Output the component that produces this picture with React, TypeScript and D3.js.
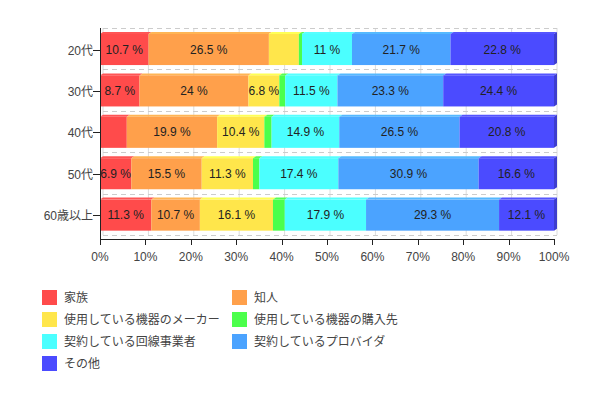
import React, { useEffect, useRef } from 'react';
import * as d3 from 'd3';

const categories = ['20代', '30代', '40代', '50代', '60歳以上'];
const seriesNames = [
  '家族',
  '知人',
  '使用している機器のメーカー',
  '使用している機器の購入先',
  '契約している回線事業者',
  '契約しているプロバイダ',
  'その他',
];
const colors = ['#ff4b4b', '#ffa04b', '#ffe64b', '#4bff4b', '#4bffff', '#4ba3ff', '#4b4bff'];

// one row per category, same order as seriesNames
const values = [
  [10.7, 26.5, 6.6, 0.7, 11, 21.7, 22.8],
  [8.7, 24, 6.8, 1.3, 11.5, 23.3, 24.4],
  [5.9, 19.9, 10.4, 1.6, 14.9, 26.5, 20.8],
  [6.9, 15.5, 11.3, 1.4, 17.4, 30.9, 16.6],
  [11.3, 10.7, 16.1, 2.6, 17.9, 29.3, 12.1],
];
const xTicks = [0, 10, 20, 30, 40, 50, 60, 70, 80, 90, 100];

const FONT = "Arial, 'Liberation Sans', 'Noto Sans CJK JP', sans-serif";

const App = () => {
  const svgRef = useRef(null);

  useEffect(() => {
    const svg = d3.select(svgRef.current);
    svg.selectAll('*').remove();

    const left = 100;
    const right = 554;
    const top = 28;
    const bottom = 239;
    const dx = 3; // depth offset of the back wall
    const dy = 4;
    const bdx = 3; // depth of the bars
    const bdy = 2;

    const x = d3.scaleLinear().domain([0, 100]).range([left, right]);
    const rows = d3.scaleBand().domain(categories).range([top, bottom - dy]).padding(0);
    const barTop = (c) => rows(c) + rows.bandwidth() * 0.145;
    const barH = rows.bandwidth() * 0.75;

    // back wall: vertical grid
    svg.append('g')
      .selectAll('line')
      .data(xTicks)
      .join('line')
      .attr('x1', d => x(d) + dx)
      .attr('x2', d => x(d) + dx)
      .attr('y1', top)
      .attr('y2', bottom - dy)
      .attr('stroke', '#dcdcdc')
      .attr('stroke-width', 1);

    // back wall: dashed row lines
    const rowLines = categories.map(c => rows(c)).concat([rows(categories[categories.length - 1]) + rows.bandwidth()]);
    svg.append('g')
      .selectAll('line')
      .data(rowLines)
      .join('line')
      .attr('x1', left + dx)
      .attr('x2', right + dx)
      .attr('y1', d => Math.round(d) + 0.5)
      .attr('y2', d => Math.round(d) + 0.5)
      .attr('stroke', '#cccccc')
      .attr('stroke-dasharray', '5,4');

    // stacked bars
    const stacked = d3.stack().keys(d3.range(seriesNames.length))(values);
    const barG = svg.append('g');
    categories.forEach((c, ci) => {
      const y0 = barTop(c);
      seriesNames.forEach((s, si) => {
        const seg = stacked[si][ci];
        const xa = x(seg[0]);
        const xb = x(seg[1]);
        const base = d3.color(colors[si]);
        barG.append('path')
          .attr('d', `M${xa},${y0}L${xa + bdx},${y0 - bdy}L${xb + bdx},${y0 - bdy}L${xb},${y0}Z`)
          .attr('fill', base.brighter(0.35).formatHex());
        barG.append('rect')
          .attr('x', xa)
          .attr('y', y0)
          .attr('width', xb - xa)
          .attr('height', barH)
          .attr('fill', colors[si]);
        if (si === seriesNames.length - 1) {
          barG.append('path')
            .attr('d', `M${xb},${y0}L${xb + bdx},${y0 - bdy}L${xb + bdx},${y0 + barH - bdy}L${xb},${y0 + barH}Z`)
            .attr('fill', base.darker(0.6).formatHex());
        }
      });
      seriesNames.forEach((s, si) => {
        const seg = stacked[si][ci];
        const w = x(seg[1]) - x(seg[0]);
        if (w < 30.4) return;
        barG.append('text')
          .attr('x', (x(seg[0]) + x(seg[1])) / 2)
          .attr('y', y0 + barH / 2 + 4)
          .attr('text-anchor', 'middle')
          .attr('font-family', FONT)
          .attr('font-size', '12px')
          .attr('fill', '#222')
          .text(`${values[ci][si]} %`);
      });
    });

    // axes
    const axisG = svg.append('g');
    axisG.append('line')
      .attr('x1', left + 0.5).attr('x2', left + 0.5)
      .attr('y1', top).attr('y2', bottom + 6)
      .attr('stroke', '#222');
    axisG.append('line')
      .attr('x1', left).attr('x2', right + 0.5)
      .attr('y1', bottom + 0.5).attr('y2', bottom + 0.5)
      .attr('stroke', '#222');
    axisG.selectAll('.xt')
      .data(xTicks)
      .join('line')
      .attr('class', 'xt')
      .attr('x1', d => Math.round(x(d)) + 0.5)
      .attr('x2', d => Math.round(x(d)) + 0.5)
      .attr('y1', bottom)
      .attr('y2', bottom + 6)
      .attr('stroke', '#222');
    axisG.selectAll('.xl')
      .data(xTicks)
      .join('text')
      .attr('class', 'xl')
      .attr('x', d => x(d))
      .attr('y', bottom + 22)
      .attr('text-anchor', 'middle')
      .attr('font-family', FONT)
      .attr('font-size', '12px')
      .attr('fill', '#444')
      .text(d => `${d}%`);

    categories.forEach(c => {
      const cy = Math.round(barTop(c) + barH / 2) + 0.5;
      axisG.append('line')
        .attr('x1', left - 7).attr('x2', left)
        .attr('y1', cy).attr('y2', cy)
        .attr('stroke', '#222');
      axisG.append('text')
        .attr('x', left - 7)
        .attr('y', cy + 4)
        .attr('text-anchor', 'end')
        .attr('font-family', FONT)
        .attr('font-size', '12px')
        .attr('fill', '#444')
        .text(c);
    });

    // legend
    const legend = svg.append('g').attr('transform', 'translate(42,290)');
    seriesNames.forEach((s, i) => {
      const col = i % 2;
      const row = Math.floor(i / 2);
      const g = legend.append('g').attr('transform', `translate(${col * 190},${row * 22})`);
      g.append('rect')
        .attr('width', 15)
        .attr('height', 15)
        .attr('fill', colors[i]);
      g.append('text')
        .attr('x', 22)
        .attr('y', 12)
        .attr('font-family', FONT)
        .attr('font-size', '12px')
        .attr('fill', '#444')
        .text(s);
    });
  }, []);

  return (
    <div style={{ position: 'absolute', left: 0, top: 0, width: 598, height: 398, background: '#fff' }}>
      <svg ref={svgRef} width={598} height={398}></svg>
    </div>
  );
};

export default App;
